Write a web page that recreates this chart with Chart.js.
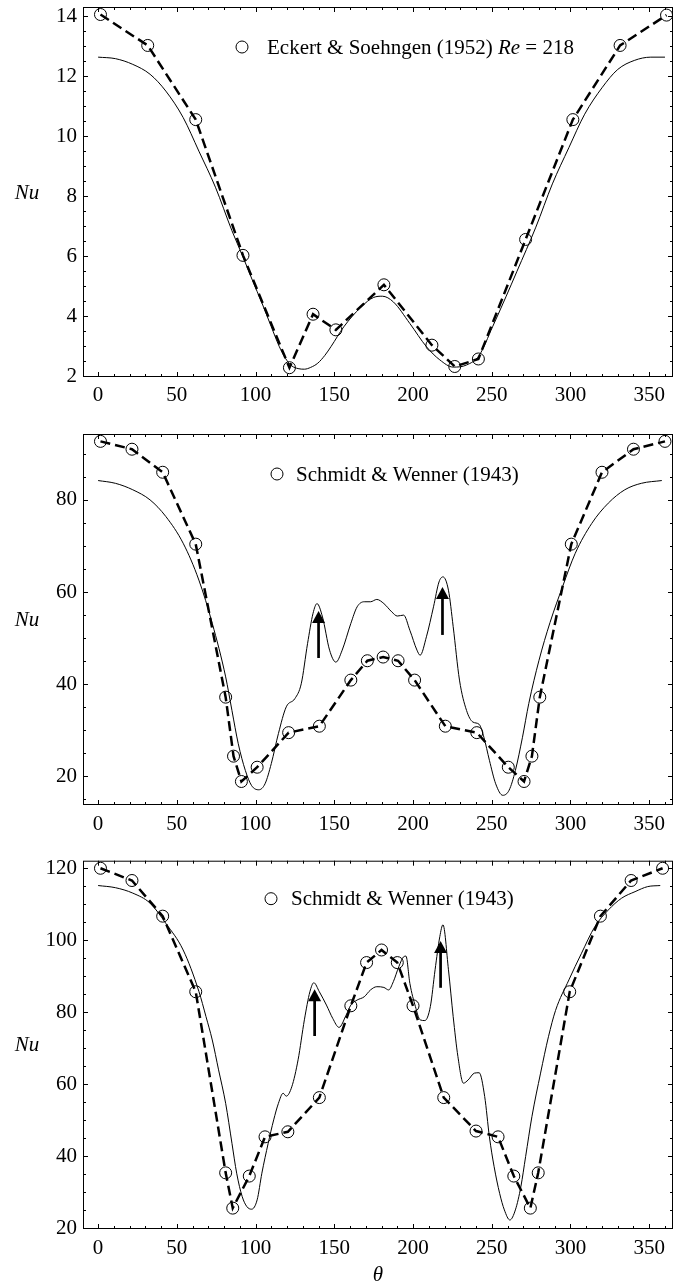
<!DOCTYPE html>
<html>
<head>
<meta charset="utf-8">
<script src="https://cdn.jsdelivr.net/npm/chart.js@4.4.1/dist/chart.umd.min.js"></script>
<style>
    html, body { margin: 0; padding: 0; background: #fff; }
    body { width: 680px; height: 1286px; position: relative; overflow: hidden; }
    canvas { position: absolute; left: 0; }
</style>
</head>
<body>
<canvas id="chart1" width="680" height="407" style="top:0px"></canvas>
<canvas id="chart2" width="680" height="425" style="top:410px"></canvas>
<canvas id="chart3" width="680" height="446" style="top:840px"></canvas>
<script>
// tick labels
var xTicks = [0, 50, 100, 150, 200, 250, 300, 350];
var yTicks1 = [2, 4, 6, 8, 10, 12, 14];
var yTicks2 = [20, 40, 60, 80];
var yTicks3 = [20, 40, 60, 80, 100, 120];

// panel 1 - Eckert & Soehngen (1952), Re = 218
var expTheta1 = [1.5, 31.5, 62, 92, 121.5, 136.5, 151, 181.5, 212, 226.5, 241.5, 271.5, 301.5, 331.5, 361];
var expNu1 = [14.05, 13.02, 10.55, 6.03, 2.29, 4.07, 3.55, 5.05, 3.04, 2.33, 2.58, 6.56, 10.55, 13.02, 14.03];
var calcTheta1 = [0, 11, 22, 33, 43, 54, 64, 74.5, 85, 92, 98, 104, 110, 115, 119, 123, 127, 131, 135, 139.5, 144, 148, 156, 167, 175, 180.5, 187.5, 198, 208.5, 217, 225.5, 234, 242, 250.5, 259, 266, 278, 288.5, 299, 309, 320, 330, 340.5, 351, 360];
var calcNu1 = [12.63, 12.58, 12.39, 12.06, 11.5, 10.62, 9.5, 8.3, 6.85, 5.98, 5.2, 4.45, 3.65, 3.0, 2.6, 2.35, 2.26, 2.24, 2.3, 2.44, 2.7, 3.0, 3.65, 4.31, 4.63, 4.67, 4.48, 3.76, 2.99, 2.55, 2.31, 2.38, 2.7, 3.65, 4.65, 5.5, 6.97, 8.41, 9.62, 10.73, 11.61, 12.22, 12.52, 12.63, 12.63];
var legendParts1 = [['Eckert & Soehngen (1952) ', false], ['Re', true], [' = 218', false]];

// panel 2 - Schmidt & Wenner (1943)
var expTheta2 = [1.5, 21.5, 41, 62, 81, 86, 91, 101, 121, 140.5, 160.5, 171, 181, 190.5, 201, 220.5, 240.5, 260.5, 270.5, 275.5, 280.5, 300.5, 320, 340, 360];
var expNu2 = [92.7, 91.0, 86.0, 70.4, 37.2, 24.4, 18.9, 22.0, 29.5, 30.9, 40.9, 45.1, 45.9, 45.1, 40.9, 30.9, 29.5, 22.0, 18.9, 24.4, 37.2, 70.4, 86.0, 91.0, 92.7];
var calcTheta2 = [0, 11, 22, 33, 43, 54, 64, 72.5, 81, 85, 89, 93.5, 97.5, 102, 106, 110, 114.5, 119.5, 125, 129, 133, 136.5, 139, 142.5, 147, 151, 155, 160.5, 164.5, 169, 173, 177, 181.5, 186.5, 190, 194, 198, 202.5, 204.5, 208.5, 213, 216.5, 219, 222.5, 225.5, 229.5, 234, 238, 242, 245, 248.5, 252.5, 257, 261, 265, 269.5, 273.5, 280, 287, 295, 303, 313.5, 324, 334.5, 345, 358];
var calcNu2 = [84.2, 83.6, 82.2, 80.0, 76.4, 70.6, 62.6, 53.2, 41.6, 34.3, 27.1, 21.3, 18.0, 17.1, 18.4, 22.8, 29.3, 35.1, 36.9, 40.1, 48.8, 55.4, 57.5, 54.6, 47.4, 44.8, 47.4, 53.2, 56.8, 57.9, 57.9, 58.4, 57.5, 55.7, 54.8, 55.0, 51.7, 47.4, 46.3, 50.3, 56.8, 62.2, 63.3, 60.4, 52.5, 40.9, 34.3, 31.8, 31.3, 28.5, 23.5, 18.4, 15.9, 17.0, 21.3, 28.5, 35.8, 45.2, 53.4, 61.2, 68.4, 74.9, 79.3, 82.2, 83.6, 84.2];
var arrows2 = [[140, 45.7, 55.9], [218.7, 50.7, 61.1]];
var legendParts2 = [['Schmidt & Wenner (1943)', false]];

// panel 3 - Schmidt & Wenner (1943)
var expTheta3 = [1.5, 21.5, 41, 62, 81, 85.5, 96, 106, 120.5, 140.5, 160.5, 170.5, 180, 190, 200, 219.5, 240, 254, 264, 274.5, 279.5, 299.5, 319, 338.5, 358.5];
var expNu3 = [120.0, 116.6, 106.7, 85.7, 35.4, 25.6, 34.5, 45.4, 46.8, 56.3, 81.8, 93.8, 97.3, 93.8, 81.8, 56.3, 47.0, 45.4, 34.5, 25.6, 35.4, 85.7, 106.7, 116.6, 120.0];
var calcTheta3 = [0, 11, 22, 33, 43, 54, 64, 68.5, 72.5, 76.5, 81, 85, 88, 91.5, 94.5, 97.5, 101, 104, 108, 111.5, 114.5, 117.5, 119.5, 123, 127, 131, 134.5, 137, 140.5, 145, 149, 153, 157.5, 160.5, 164.5, 169, 173, 177, 181.5, 184.5, 187.5, 191, 194, 195.5, 198, 201.5, 204.5, 207.5, 211, 214, 217, 219, 222.5, 225.5, 228.5, 232, 235, 239, 242, 245.5, 248.5, 251.5, 255, 258, 261.5, 265, 268.5, 271.5, 275.5, 281, 286, 290.5, 299, 307, 315.5, 324, 332.5, 341, 349, 357];
var calcNu3 = [115.2, 114.6, 113.1, 110.3, 104.7, 97.3, 85.8, 78.8, 72.3, 64.0, 54.7, 43.6, 35.3, 28.8, 26.0, 25.3, 27.9, 35.3, 43.6, 50.1, 54.7, 57.5, 56.7, 59.3, 66.8, 77.9, 85.7, 88.2, 85.7, 82.0, 78.3, 75.8, 79.2, 82.0, 83.4, 84.3, 86.2, 87.1, 86.9, 86.2, 88.5, 92.7, 95.4, 95.6, 88.0, 81.6, 77.9, 77.7, 81.6, 91.8, 101.0, 104.3, 91.8, 78.8, 67.7, 60.3, 61.2, 63.1, 63.2, 56.6, 45.4, 37.1, 29.7, 25.1, 22.3, 25.1, 31.6, 39.9, 51.0, 63.1, 73.2, 80.5, 89.0, 96.4, 103.8, 108.4, 111.7, 113.5, 114.9, 115.2];
var arrows3 = [[137.5, 73.4, 86.4], [217.5, 86.8, 99.8]];
var legendParts3 = [['Schmidt & Wenner (1943)', false]];

var FONT = "'Liberation Serif', 'Times New Roman', serif";

function toPoints(xs, ys) {
    var result = [];
    for (var i = 0; i < xs.length; i++) {
        result.push({x: xs[i], y: ys[i]});
    }
    return result;
}

// no extra room for half-labels at the axis ends
function zeroPadding(scale) {
    scale.paddingTop = 0;
    scale.paddingBottom = 0;
    scale.paddingLeft = 0;
    scale.paddingRight = 0;
}

// frame around the plot with inward ticks on all four sides
var frameTicksPlugin = {
    id: 'frameTicks',
    afterDraw: function (chart, args, opts) {
        var ctx = chart.ctx;
        var a = chart.chartArea;
        var xs = chart.scales.x;
        var ys = chart.scales.y;
        ctx.save();
        ctx.strokeStyle = '#000';
        ctx.lineWidth = 1;
        ctx.strokeRect(a.left + 0.5, a.top + 0.5, a.right - a.left - 1, a.bottom - a.top - 1);

        function tickX(v, len) {
            var px = Math.round(xs.getPixelForValue(v)) + 0.5;
            ctx.beginPath();
            ctx.moveTo(px, a.bottom);
            ctx.lineTo(px, a.bottom - len);
            ctx.moveTo(px, a.top);
            ctx.lineTo(px, a.top + len);
            ctx.stroke();
        }
        function tickY(v, len) {
            var py = Math.round(ys.getPixelForValue(v)) + 0.5;
            ctx.beginPath();
            ctx.moveTo(a.left, py);
            ctx.lineTo(a.left + len, py);
            ctx.moveTo(a.right, py);
            ctx.lineTo(a.right - len, py);
            ctx.stroke();
        }
        var k;
        for (k = Math.ceil(xs.min / opts.xMinor); k * opts.xMinor <= xs.max; k++) {
            tickX(k * opts.xMinor, (k * opts.xMinor) % opts.xMajor === 0 ? 5 : 3);
        }
        for (k = Math.ceil(ys.min / opts.yMinor); k * opts.yMinor <= ys.max; k++) {
            var v = Math.round(k * opts.yMinor * 100) / 100;
            tickY(v, Math.abs(v / opts.yMajor - Math.round(v / opts.yMajor)) < 1e-6 ? 5 : 3);
        }

        // axis titles
        ctx.fillStyle = '#000';
        ctx.font = 'italic 21px ' + FONT;
        ctx.textAlign = 'center';
        ctx.textBaseline = 'middle';
        ctx.fillText('Nu', 27, (a.top + a.bottom) / 2 + 1);
        if (opts.thetaLabel) {
            ctx.fillText('\u03b8', (a.left + a.right) / 2, a.bottom + 46);
        }
        ctx.restore();
    }
};

var arrowPlugin = {
    id: 'arrows',
    afterDatasetsDraw: function (chart, args, opts) {
        if (!opts.list) {
            return;
        }
        var ctx = chart.ctx;
        var xs = chart.scales.x;
        var ys = chart.scales.y;
        ctx.save();
        ctx.fillStyle = '#000';
        ctx.strokeStyle = '#000';
        for (var i = 0; i < opts.list.length; i++) {
            var arr = opts.list[i];
            var px = xs.getPixelForValue(arr[0]);
            var y0 = ys.getPixelForValue(arr[1]);
            var y1 = ys.getPixelForValue(arr[2]);
            ctx.lineWidth = 2.7;
            ctx.beginPath();
            ctx.moveTo(px, y0);
            ctx.lineTo(px, y1 + 10);
            ctx.stroke();
            ctx.beginPath();
            ctx.moveTo(px, y1);
            ctx.lineTo(px - 6.5, y1 + 12);
            ctx.lineTo(px + 6.5, y1 + 12);
            ctx.closePath();
            ctx.fill();
        }
        ctx.restore();
    }
};

var legendPlugin = {
    id: 'circleLegend',
    afterDraw: function (chart, args, opts) {
        var ctx = chart.ctx;
        var a = chart.chartArea;
        var cx = a.left + opts.dx;
        var cy = a.top + opts.dy;
        ctx.save();
        ctx.strokeStyle = '#000';
        ctx.lineWidth = 1;
        ctx.beginPath();
        ctx.arc(cx, cy, 6, 0, Math.PI * 2);
        ctx.stroke();
        ctx.fillStyle = '#000';
        ctx.textAlign = 'left';
        ctx.textBaseline = 'middle';
        var tx = cx + opts.gap;
        for (var i = 0; i < opts.parts.length; i++) {
            ctx.font = (opts.parts[i][1] ? 'italic ' : '') + '21px ' + FONT;
            ctx.fillText(opts.parts[i][0], tx, cy + 1);
            tx += ctx.measureText(opts.parts[i][0]).width;
        }
        ctx.restore();
    }
};

function makeChart(id, cfg) {
    var ctx = document.getElementById(id);
    return new Chart(ctx, {
        type: 'scatter',
        data: {
            datasets: [
                {
                    label: 'calc',
                    data: toPoints(cfg.calcTheta, cfg.calcNu),
                    showLine: true,
                    borderColor: '#000',
                    borderWidth: 1,
                    pointRadius: 0,
                    cubicInterpolationMode: 'monotone'
                },
                {
                    label: 'dashed',
                    data: toPoints(cfg.expTheta, cfg.expNu),
                    showLine: true,
                    borderColor: '#000',
                    borderWidth: 2.5,
                    borderDash: [10, 5],
                    pointRadius: 0,
                    tension: 0
                },
                {
                    label: cfg.legend.map(function (p) { return p[0]; }).join(''),
                    data: toPoints(cfg.expTheta, cfg.expNu),
                    showLine: false,
                    pointRadius: 6,
                    pointBorderWidth: 1,
                    pointBorderColor: '#000',
                    pointBackgroundColor: 'rgba(0,0,0,0)',
                    clip: false
                }
            ]
        },
        options: {
            responsive: false,
            animation: false,
            layout: {padding: {top: cfg.padTop, right: 1, left: 0, bottom: 0}},
            plugins: {
                legend: {display: false},
                tooltip: {enabled: false},
                frameTicks: {xMinor: 10, xMajor: 50, yMinor: cfg.yMinor, yMajor: cfg.yMajor, thetaLabel: cfg.thetaLabel},
                arrows: {list: cfg.arrows},
                circleLegend: {dx: cfg.legendDx, dy: cfg.legendDy, gap: cfg.legendGap, parts: cfg.legend}
            },
            scales: {
                x: {
                    type: 'linear',
                    min: -9.6,
                    max: 365.1,
                    grid: {display: false, drawTicks: false},
                    border: {display: false},
                    afterBuildTicks: function (scale) {
                        scale.ticks = xTicks.map(function (v) { return {value: v}; });
                    },
                    afterFit: function (scale) {
                        scale.height = cfg.xHeight;
                        zeroPadding(scale);
                    },
                    ticks: {
                        padding: cfg.xPad,
                        color: '#000',
                        maxRotation: 0,
                        font: {family: FONT, size: 21}
                    }
                },
                y: {
                    type: 'linear',
                    min: cfg.yMin,
                    max: cfg.yMax,
                    grid: {display: false, drawTicks: false},
                    border: {display: false},
                    afterBuildTicks: function (scale) {
                        scale.ticks = cfg.yTicks.map(function (v) { return {value: v}; });
                    },
                    afterFit: function (scale) {
                        scale.width = 83;
                        zeroPadding(scale);
                    },
                    ticks: {
                        padding: 6,
                        color: '#000',
                        font: {family: FONT, size: 21}
                    }
                }
            }
        },
        plugins: [frameTicksPlugin, arrowPlugin, legendPlugin]
    });
}

makeChart('chart1', {
    calcTheta: calcTheta1, calcNu: calcNu1, expTheta: expTheta1, expNu: expNu1,
    yTicks: yTicks1, yMin: 1.98, yMax: 14.3, yMinor: 0.5, yMajor: 2,
    padTop: 6, xHeight: 30, xPad: 6, arrows: null,
    legend: legendParts1, legendDx: 159, legendDy: 40, legendGap: 25, thetaLabel: false
});
makeChart('chart2', {
    calcTheta: calcTheta2, calcNu: calcNu2, expTheta: expTheta2, expNu: expNu2,
    yTicks: yTicks2, yMin: 13.8, yMax: 94.3, yMinor: 5, yMajor: 20,
    padTop: 24, xHeight: 30, xPad: 7, arrows: arrows2,
    legend: legendParts2, legendDx: 194, legendDy: 40, legendGap: 19, thetaLabel: false
});
makeChart('chart3', {
    calcTheta: calcTheta3, calcNu: calcNu3, expTheta: expTheta3, expNu: expNu3,
    yTicks: yTicks3, yMin: 19.8, yMax: 122.1, yMinor: 5, yMajor: 20,
    padTop: 20.7, xHeight: 57, xPad: 7, arrows: arrows3,
    legend: legendParts3, legendDx: 188, legendDy: 38, legendGap: 20, thetaLabel: true
});
</script>
</body>
</html>
